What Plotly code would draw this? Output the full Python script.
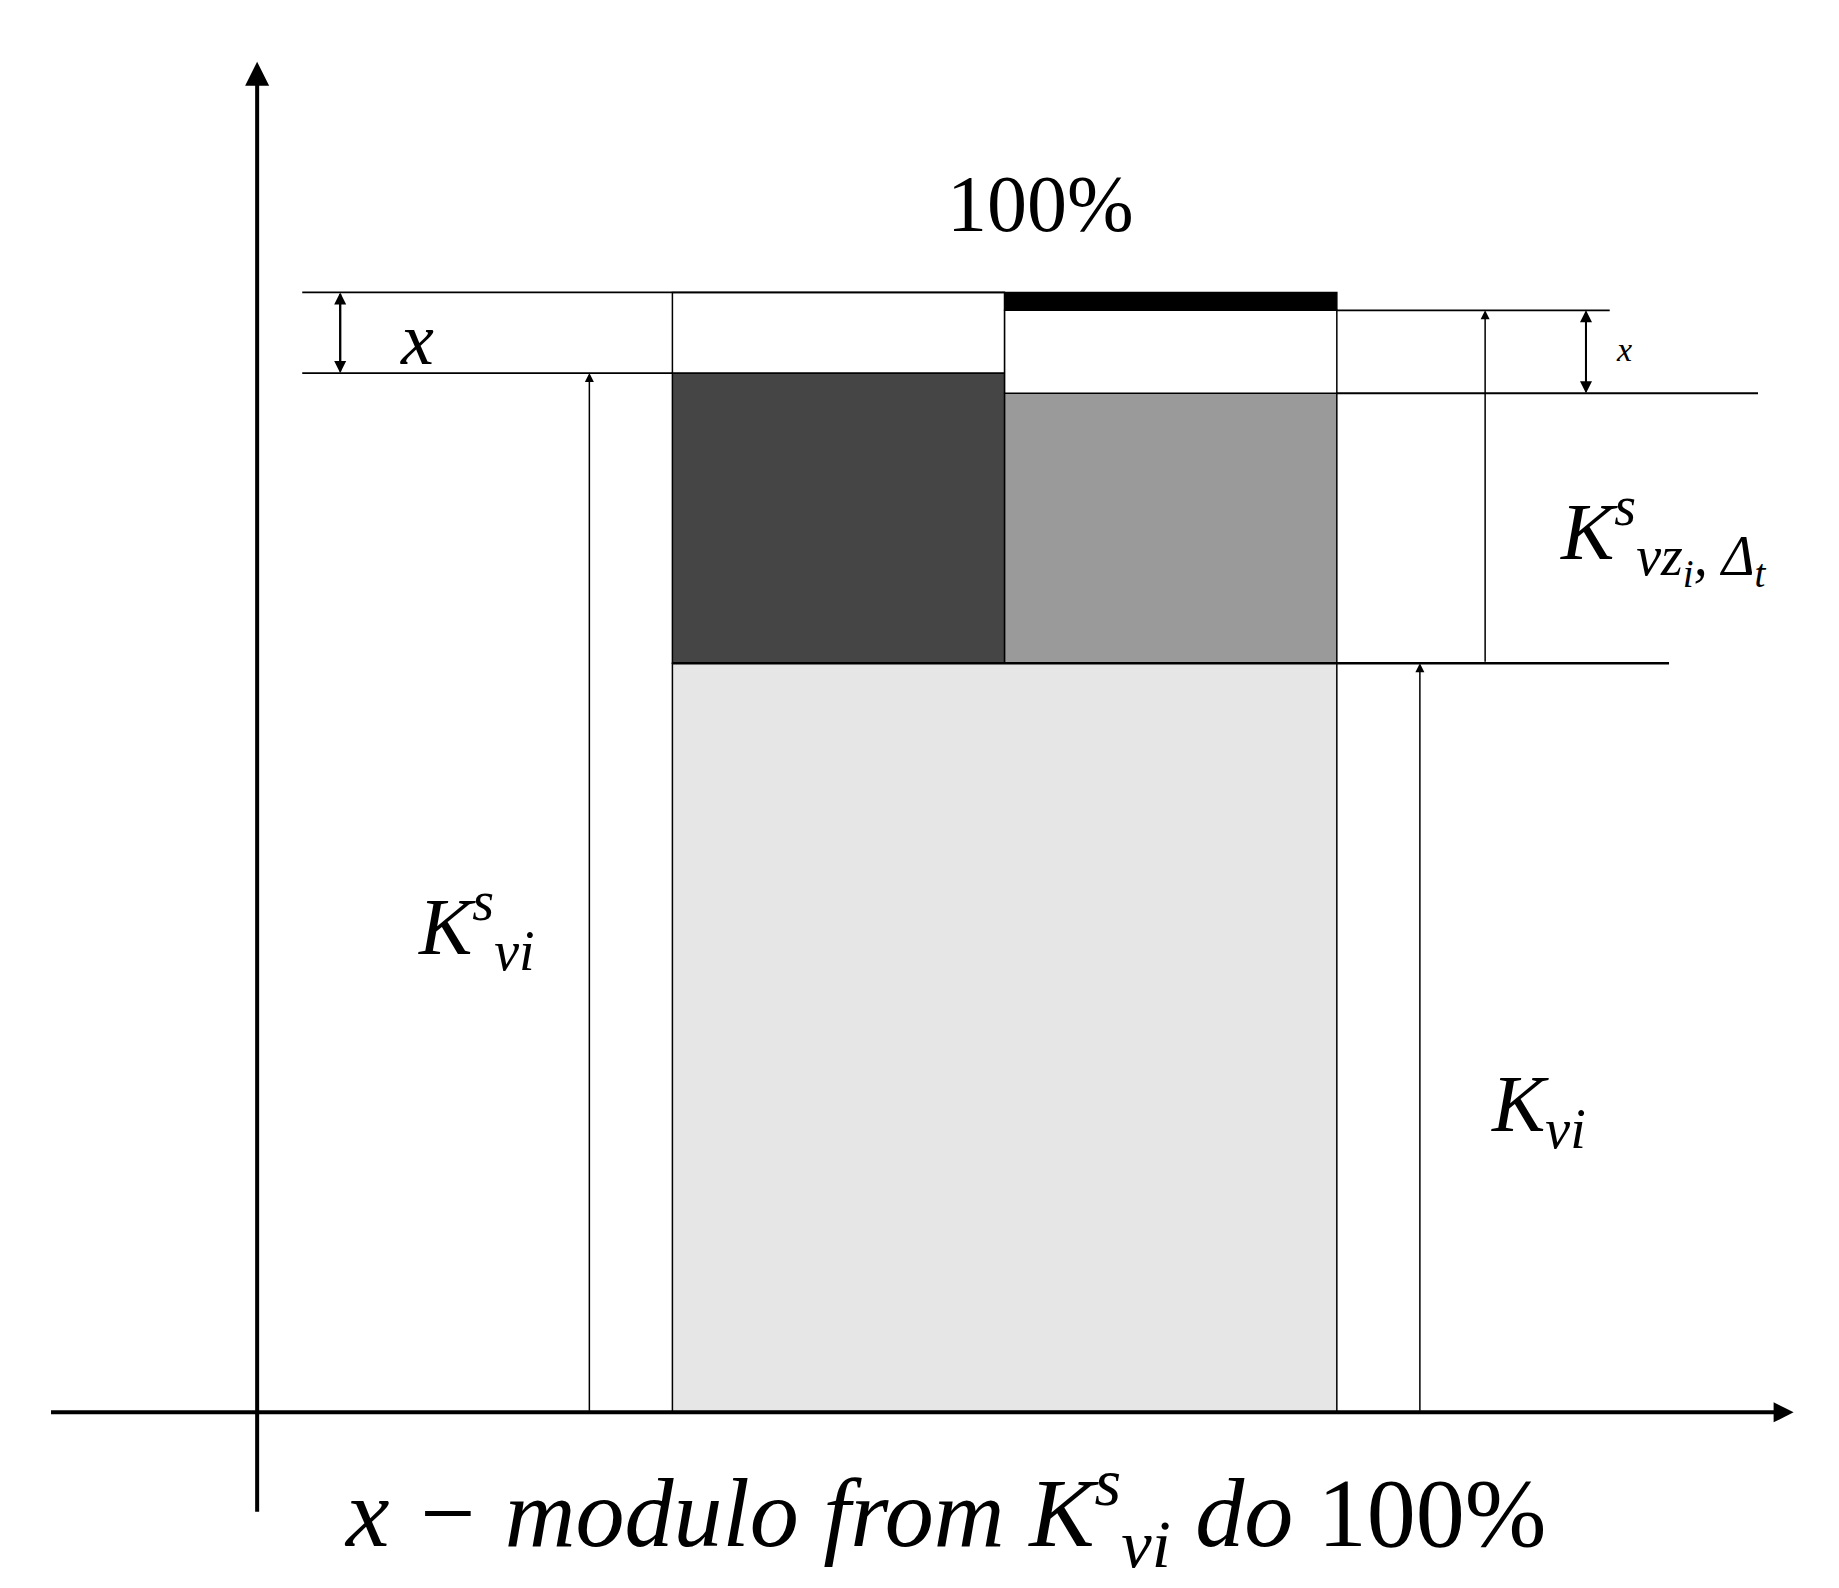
import plotly.graph_objects as go

# levels in percent of the 100% height
level_full = 100.0
level_ksvi = 92.8
level_kvi = 66.9
level_right_white = 91.0
level_right_black = 98.4

columns = [700, 980]          # column centres
col_width = 280

fig = go.Figure()

# stacked blocks
stacks = [
    # (x, width, base, top, colour)
    ((columns[0] + columns[1]) / 2, 2 * col_width, 0, level_kvi, "#e6e6e6"),
    (columns[0], col_width, level_kvi, level_ksvi, "#454545"),
    (columns[0], col_width, level_ksvi, level_full, "white"),
    (columns[1], col_width, level_kvi, level_right_white, "#9a9a9a"),
    (columns[1], col_width, level_right_white, level_right_black, "white"),
    (columns[1], col_width, level_right_black, level_full, "black"),
]
for x, wd, b, t, c in stacks:
    fig.add_trace(go.Bar(x=[x], y=[t - b], base=[b], width=wd,
                         marker=dict(color=c, line=dict(color="black", width=1.5)),
                         showlegend=False, hoverinfo="skip"))

def hline(x0, x1, y, w=1.8):
    fig.add_trace(go.Scatter(x=[x0, x1], y=[y, y], mode="lines",
                             line=dict(color="black", width=w),
                             showlegend=False, hoverinfo="skip"))

hline(248, 840, level_full)
hline(248, 560, level_ksvi)
hline(1120, 1350, level_right_black)
hline(1120, 1475, level_right_white)
hline(560, 1400, level_kvi, 2.5)

def arrow(x, y0, y1, both=False, w=1.5, head=2):
    fig.add_annotation(x=x, y=y1, ax=x, ay=y0, xref="x", yref="y", axref="x", ayref="y",
                       text="", showarrow=True, arrowhead=head, arrowsize=1.2,
                       arrowwidth=w, arrowcolor="black")
    if both:
        fig.add_annotation(x=x, y=y0, ax=x, ay=y1, xref="x", yref="y", axref="x", ayref="y",
                           text="", showarrow=True, arrowhead=head, arrowsize=1.2,
                           arrowwidth=w, arrowcolor="black")

# main axes
arrow(210, -9.0, 120.6, w=4, head=2)
fig.add_annotation(x=1505, y=0, ax=35, ay=0, xref="x", yref="y", axref="x", ayref="y",
                   text="", showarrow=True, arrowhead=2, arrowsize=1, arrowwidth=4,
                   arrowcolor="black")

arrow(280, level_ksvi, level_full, both=True, w=2)
arrow(490, 0, level_ksvi)
arrow(1330, level_right_white, level_right_black, both=True, w=2)
arrow(1245, level_kvi, level_right_black)
arrow(1190, 0, level_kvi)

serif = "Liberation Serif"
def label(x, y, t, s):
    fig.add_annotation(x=x, y=y, xref="x", yref="y", text=t, showarrow=False,
                       font=dict(family=serif, size=s, color="black"))

label(870, 107.9, "100%", 80)
label(345, 95.8, "<i>x</i>", 74)
label(1362, 94.9, "<i>x</i>", 34)
label(1395, 78.3, "<i>K<sup>s</sup><sub>vz<sub>i</sub>, Δ<sub>t</sub></sub></i>", 80)
label(395, 43.4, "<i>K<sup>s</sup><sub>vi</sub></i>", 80)
label(1290, 27.0, "<i>K<sub>vi</sub></i>", 80)
label(790, -9.0, "<i>x − modulo from K<sup>s</sup><sub>vi</sub> do</i> 100%", 98)

fig.update_layout(
    width=1839, height=1588, margin=dict(l=0, r=0, t=0, b=0),
    plot_bgcolor="white", paper_bgcolor="white", barmode="overlay",
    xaxis=dict(range=[0, 1550], visible=False),
    yaxis=dict(range=[-16.4, 125.4], visible=False),
)
fig.write_html("out.html")
